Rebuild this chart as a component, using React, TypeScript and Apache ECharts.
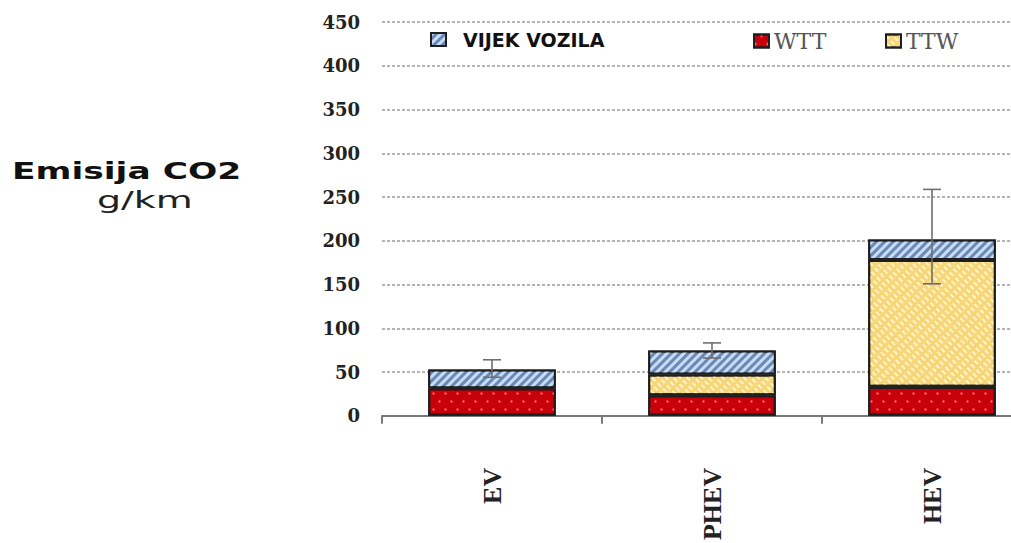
import React, { useEffect, useRef } from "react";
import * as echarts from "echarts";

const categories = ["EV", "PHEV", "HEV"];
const wttValues = [31.5, 23.5, 33.3];
const ttwValues = [null, 23.8, 144.7];
const vijekValues = [21.5, 27.3, 23.5];
const errLow = [44, 66, 150.8];
const errHigh = [64, 83.3, 258.7];
const yTicks = { min: 0, max: 450, interval: 50 };

export default function App() {
  const ref = useRef<HTMLDivElement>(null);
  useEffect(() => {
    if (!ref.current) return;
    const chart = echarts.init(ref.current, null, { renderer: "svg" });
    const border = { borderColor: "#1e1e1e", borderWidth: 2 };
    const legendBase = { top: 25, itemWidth: 15, itemHeight: 13, icon: "rect" };
    const option: any = {
      animation: false,
      backgroundColor: "#ffffff",
      grid: { left: 382, top: 22, right: 8, bottom: 126.5 },
      legend: [
        {
          ...legendBase,
          data: ["VIJEK VOZILA"],
          left: 425,
          textStyle: {
            fontFamily: "DejaVu Sans",
            fontWeight: "bold",
            fontSize: 19,
            color: "#111",
            padding: [0, 0, 0, 12],
          },
        },
        {
          ...legendBase,
          data: ["WTT"],
          left: 748,
          textStyle: { fontFamily: "DejaVu Serif", fontSize: 22, color: "#555" },
        },
        {
          ...legendBase,
          data: ["TTW"],
          left: 880,
          textStyle: { fontFamily: "DejaVu Serif", fontSize: 22, color: "#555" },
        },
      ],
      xAxis: {
        type: "category",
        data: categories,
        axisLine: { lineStyle: { color: "#7a7a7a", width: 2 } },
        axisTick: { show: true, length: 8, lineStyle: { color: "#7a7a7a", width: 2 } },
        axisLabel: {
          rotate: 90,
          margin: 52,
          fontFamily: "Liberation Serif",
          fontWeight: "bold",
          fontSize: 26,
          color: "#222",
        },
      },
      yAxis: {
        type: "value",
        min: yTicks.min,
        max: yTicks.max,
        interval: yTicks.interval,
        axisLine: { show: false },
        axisTick: { show: false },
        axisLabel: {
          margin: 22,
          fontFamily: "DejaVu Serif",
          fontWeight: "bold",
          fontSize: 18,
          color: "#222",
        },
        splitLine: { lineStyle: { color: "#9a9a9a", width: 1.5, type: [3, 2] } },
      },
      series: [
        {
          name: "WTT",
          type: "bar",
          stack: "total",
          barWidth: "58%",
          data: wttValues,
          itemStyle: {
            color: "#c8000a",
            ...border,
            decal: {
              symbol: "circle",
              symbolSize: 0.8,
              color: "rgba(255,130,130,0.85)",
              dashArrayX: [[3, 9], [0, 6, 3, 3]],
              dashArrayY: [3, 5],
            },
          },
        },
        {
          name: "TTW",
          type: "bar",
          stack: "total",
          data: ttwValues,
          itemStyle: {
            color: "#f6d676",
            ...border,
            decal: {
              symbol: "rect",
              symbolSize: 1,
              color: "rgba(255,250,225,0.8)",
              dashArrayX: [5, 3],
              dashArrayY: [2, 3],
              rotation: Math.PI / 4,
            },
          },
        },
        {
          name: "VIJEK VOZILA",
          type: "bar",
          stack: "total",
          data: vijekValues,
          itemStyle: {
            color: "#6a89b6",
            ...border,
            decal: {
              symbol: "rect",
              symbolSize: 1,
              color: "rgba(205,224,246,0.95)",
              dashArrayX: [1, 0],
              dashArrayY: [3, 3],
              rotation: -Math.PI / 4,
            },
          },
        },
        {
          name: "err",
          type: "custom",
          z: 10,
          encode: { x: 0, y: [1, 2] },
          data: categories.map((c, i) => [i, errLow[i], errHigh[i]]),
          renderItem: (params: any, api: any) => {
            const x = api.value(0);
            const lo = api.coord([x, api.value(1)]);
            const hi = api.coord([x, api.value(2)]);
            const cap = 9;
            const style = { stroke: "#6e6e6e", lineWidth: 1.6 };
            return {
              type: "group",
              children: [
                { type: "line", shape: { x1: hi[0], y1: hi[1], x2: lo[0], y2: lo[1] }, style },
                { type: "line", shape: { x1: hi[0] - cap, y1: hi[1], x2: hi[0] + cap, y2: hi[1] }, style },
                { type: "line", shape: { x1: lo[0] - cap, y1: lo[1], x2: lo[0] + cap, y2: lo[1] }, style },
              ],
            };
          },
        },
      ],
      graphic: [
        {
          type: "text",
          left: 12,
          top: 160,
          scaleX: 1.5,
          style: {
            text: "Emisija CO2",
            fontFamily: "DejaVu Sans",
            fontWeight: "bold",
            fontSize: 23,
            fill: "#111",
          },
        },
        {
          type: "text",
          left: 97,
          top: 188,
          scaleX: 1.65,
          style: {
            text: "g/km",
            fontFamily: "DejaVu Sans",
            fontSize: 23,
            fill: "#222",
          },
        },
      ],
    };
    chart.setOption(option);
    return () => chart.dispose();
  }, []);
  return (
    <div
      style={{
        position: "absolute",
        left: 0,
        top: 0,
        width: 1011,
        height: 543,
        overflow: "hidden",
      }}
    >
      <div ref={ref} style={{ width: 1050, height: 543 }} />
    </div>
  );
}
